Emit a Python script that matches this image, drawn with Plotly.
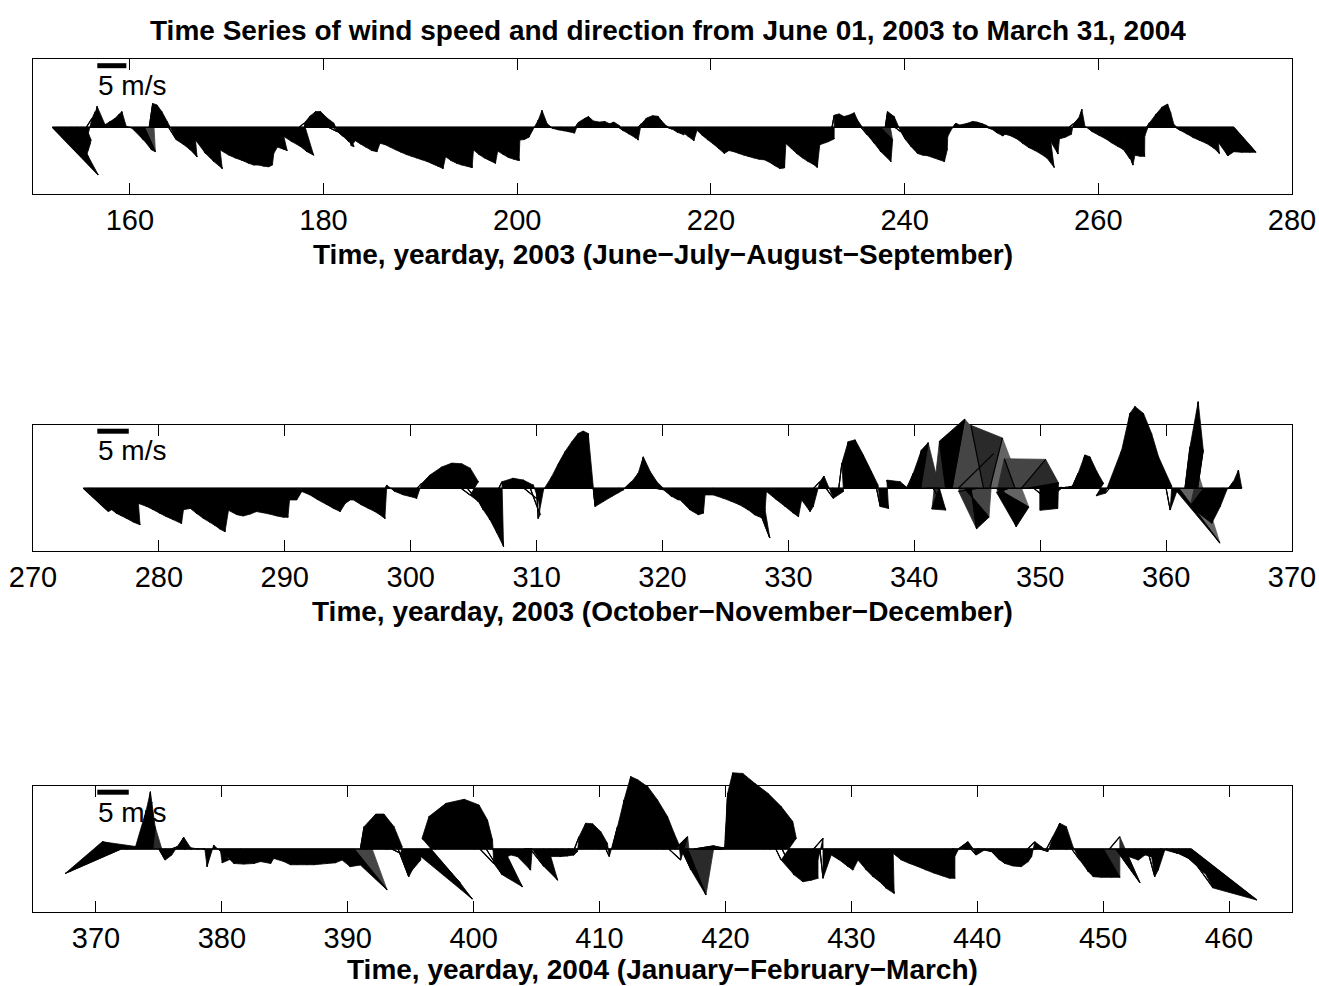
import numpy as np
import plotly.graph_objects as go

# ---------------- data (u = east, v = north, m/s), sampled every 0.5 day ----------------
p1_start = 152.0
p1_u = [7.9, 5.4, 4.3, 3.7, 3.2, 2.5, 1.2, 1.0, 0.7, 0.2, 0.75, 0.8, 0.8, 0.7, 0.3, 0.2,
        0.3, 1.55, 2.1, 1.9, 0.6, 0.5, 0.5, 0.6, 1.4, 1.8, 2.1, 2.4, 1.3, 2.2, 2.8, 3.4,
        2.2, 2.9, 3.2, 3.5, 3.8, 3.85, 3.85, 3.9, 3.9, 3.7, 3.1, 2.9, 3.2, 2.9, 1.5, 2.1,
        2.7, 3.0, 3.3, 0.8, 1.1, 1.15, 1.15, 1.5, 1.8, 1.55, 1.8, 1.9, 1.9,
        0.63, 0.46, 0.57, 0.69, 0.8, 0.85, 0.55, 0.6, 0.7, 0.8, 0.86, 0.95, 1.0, 1.05, 1.1,
        1.2, 1.26, 1.35, 1.4, 1.0, 1.15, 1.25, 1.3, 1.35, 1.4, 0.8, 0.95, 1.05, 1.15, 1.25,
        0.8, 0.95, 1.0, 1.1, 1.15, 0.45, 0.4, 0.35, 0.1, 0.3, 0.1, 0.15, 0.3, 0.5, 0.6,
        0.7, 0.7, 0.6, 0.9, 0.6, 0.6, 0.8, 0.9, 0.9, 0.8, 0.9, 0.8, 1.0, 1.3, 0.8, 0.5,
        0.6, 0.8, 0.9, 0.6, 0.6, 0.8, 1.0, 1.2,
        0.2, 0.3, 0.4, 0.1, 0.2, 0.35, 0.45, 0.55, 0.65, 0.6, 0.6, 0.65, 0.7, 0.75, 0.8,
        0.8, 0.85, 0.9, 1.0, 1.05, 1.0, 0.4, 0.55, 0.7, 0.8, 0.9, 1.0, 0.8, 0.4, 1.0, 1.2,
        0.4, 0.4, 0.4, 0.45, 0.5, 0.2, 1.1, 1.45, 1.75, 2.65, 2.1, 0.4, 0.7, 1.0, 1.05,
        1.1, 1.4, 1.45, 1.45, 1.8, 1.8, 1.85, 1.5, 0.75, 0.5, 0.5, 0.3, 0.5, 0.9, 0.8, 0.9,
        0.8, 0.8, 1.0, 1.1,
        0.6, 0.6, 1.0, 1.2, 1.4, 1.6, 1.8, 2.0, 2.4, 1.0, 1.4, 0.8, 1.0, 1.2, 0.7, 0.8, 0.5,
        0.2, 0.7, 1.0, 1.3, 1.5, 1.7, 1.8, 2.1, 1.8, 1.3, 1.4, 1.3, 0.5, 0.5, 0.8, 1.0, 1.1,
        0.8, 0.5, 0.9, 1.2, 1.4, 1.7, 2.0, 2.4, 2.5, 1.5, 2.3, 2.5, 3.0, 3.6, 3.8]
p1_v = [-8.2, -5.1, -4.5, -3.9, -2.8, -2.2, -1.0, 1.55, 2.7, 3.6, 0.4, 1.0, 1.55, 2.3, 2.7,
        0.2, -0.1, -2.2, -3.9, -4.2, 4.1, 3.85, 2.7, 1.0, -2.2, -3.0, -3.9, -5.1, -2.2, -4.5,
        -5.9, -7.1, -3.9, -4.8, -5.3, -5.7, -6.2, -6.5, -6.5, -6.7, -6.8, -6.5, -4.5, -3.4,
        -3.8, -4.0, -1.6, -2.5, -3.3, -4.2, -4.8, 0.7, 2.0, 2.7, 2.7, 1.55, 0.7, -0.75, -1.6,
        -2.5, -3.3,
        -3.2, -2.3, -2.9, -3.45, -4.0, -4.2, -2.75, -3.0, -3.45, -3.9, -4.3, -4.7, -5.0, -5.3,
        -5.6, -5.9, -6.3, -6.7, -7.1, -5.05, -5.75, -6.2, -6.5, -6.7, -6.95, -3.9, -4.7, -5.3,
        -5.75, -6.2, -4.1, -4.7, -5.2, -5.5, -5.75, -2.2, -2.1, -1.7, -0.6, 1.25, 2.9, 0.6,
        -0.2, -0.45, -0.6, -0.8, -1.0, 0.9, 1.6, 1.85, 1.1, 0.9, 1.0, 0.6, 0.9, 0.3, -0.6,
        -1.2, -1.9, -2.2, 0.6, 1.6, 2.0, 1.9, 1.2, 0.3, -0.3, -0.9, -1.3,
        -0.9, -1.6, -2.3, -0.5, -1.4, -2.2, -2.9, -3.7, -4.5, -4.0, -4.2, -4.5, -4.8, -5.05,
        -5.3, -5.5, -5.6, -6.0, -6.6, -7.1, -7.0, -2.8, -3.7, -4.6, -5.3, -5.9, -6.4, -6.9,
        -3.0, -2.5, -2.0, 2.1, 2.3, 1.85, 2.1, 2.5, 1.3, -1.3, -2.75, -4.2, -5.9, -2.2, 2.7,
        1.85, -0.75, -2.2, -3.3, -4.5, -4.8, -4.9, -5.3, -5.6, -5.9, -3.9, -1.6, -0.45, 0.7,
        0.4, 0.6, 1.0, 0.9, 0.6, 0.3, -0.3, -1.0, -1.5,
        -1.2, -1.4, -2.0, -2.8, -3.5, -4.0, -4.6, -5.3, -6.9, -2.5, -4.6, -2.0, -1.7, -1.2,
        0.6, 1.6, 3.1, 0.2, -0.8, -1.4, -2.0, -2.7, -3.3, -3.8, -5.4, -6.5, -4.8, -5.0, -5.0,
        -1.5, 0.8, 2.3, 3.5, 4.0, 2.5, 0.5, -0.6, -1.2, -1.8, -2.3, -2.8, -3.6, -4.5, -2.6,
        -4.9, -4.2, -4.3, -4.3, -4.3]

p2_start = 274.0
p2_u = [4.0, 3.5, 3.3, 3.1, 2.9, 3.0, 3.0, 1.75, 2.1, 2.1, 2.2, 2.2, 2.3, 2.6, 1.9, 2.0,
        2.0, 2.1, 2.1, 1.9, 1.75, 1.5, 1.05, 1.4, 1.4, 1.5, 1.5, 1.6, 1.6, 1.75, 1.8, 1.5,
        0.75, 0.9, 0.7, 1.0, 1.3, 1.7, 1.75, 1.8, 1.6, 1.4,
        0.9, 1.2, 1.3, 1.3, 1.1, 0.9, 0.2, 0.5, 0.85, 0.9, 0.95, 0.75, 1.05, 1.95, 2.55, 3.1,
        3.45, 3.75, 1.45, 1.75, 1.55, 1.6, 1.7, 1.75, 0.5, 1.3, 1.9, 2.5, 2.3, 1.55, 0.25,
        0.1, 0.4, 0.5, 0.5, 0.6, 0.6, 0.4, 0.2, 0.3, 0.6, 0.95, 1.0, 0.8, 1.1, 1.15, 0.95,
        1.05, 1.1, 1.4, 1.5, 1.5,
        0.8, 1.4, 1.7, 1.5, 0.75, 1.05, 1.7, 2.0, 2.3, 2.65, 2.7, 3.0, 3.05, 1.3, 0.5, 1.15,
        1.5, 1.8, 1.6, 1.1, 1.45, 0.95, 1.0, 0.65, 1.15, 1.75, 0.5, 0.5, 0.6, 0.9, 1.2, 1.25,
        0.6, 0.9, -0.35, 0.75, 0.8, 0.85, 1.15, 1.2,
        2.0, 2.0, -1.2, -1.0, 2.0, 5.6, 3.86, 0.9, -2.95, -2.0, 2.0, 5.2, 2.2, -1.9, -1.7,
        3.86, 4.9, 3.8, 0.0, 2.2, 1.4, 1.2, 1.25, 1.05, 1.1, 0.9, 1.0, 1.05, -1.1, -0.7,
        0.95, 1.25, 1.05, 1.4, 1.7, 1.8, 2.1, 1.9, 0.65, 0.7, 6.55, 0.8, 1.1, 0.9, -2.2,
        0.25, 0.6, 0.65, 0.7, 0.5, 0.0]
p2_v = [-3.7, -3.4, -4.0, -4.4, -4.8, -5.4, -5.8, -2.4, -2.9, -3.4, -4.0, -4.5, -5.0, -5.6,
        -3.4, -3.2, -4.0, -4.8, -5.4, -5.9, -6.5, -6.9, -3.5, -4.2, -4.4, -4.1, -3.7, -3.9,
        -4.1, -4.4, -4.6, -4.6, -1.85, -1.85, -0.5, -1.05, -1.85, -2.6, -3.2, -3.7, -2.4,
        -1.85,
        -1.85, -2.65, -3.2, -3.7, -4.2, -4.8, 0.5, -0.5, -1.05, -1.3, -1.6, 0.8, 2.1, 3.4,
        4.0, 3.9, 3.2, 1.05, -1.05, -2.1, -3.45, -5.0, -7.1, -9.25, 1.05, 1.6, 1.3, 0.5,
        -1.85, -4.2, -4.8, -0.25, 1.85, 4.0, 5.8, 7.4, 8.7, 9.1, 8.7, -2.9, -2.1, -1.3, -0.7,
        -0.25, 1.05, 2.4, 5.0, 2.65, 1.05, -0.25, -1.3, -1.85,
        -1.85, -3.45, -4.2, -3.95, -1.05, -1.05, -1.6, -2.1, -2.65, -3.45, -4.25, -4.8, -7.9,
        -3.45, -0.5, -1.85, -2.9, -3.95, -4.5, -1.85, -3.7, -2.9, 1.05, 1.95, -1.6, -0.5,
        4.0, 7.4, 7.7, 5.3, 2.65, 0.5, -2.9, -3.2, 1.3, 1.05, 0.15, 2.4, 6.1, 7.25,
        0.0, -3.46, -3.3, 7.5, 11.0, 5.5, -4.6, -6.44, -0.5, 10.0, 8.0, -3.0, -6.1, -0.7,
        4.7, 4.6, 0.87, -3.2, -3.5, -0.15, 0.15, 0.15, 0.35, 2.4, 5.3, 5.0, 2.65, 0.8,
        -1.2, -0.8, 6.1, 11.9, 13.0, 11.9, 8.7, 5.0, 2.1, 0.35, -3.45, -0.5, -8.7, 6.6,
        13.75, 6.1, -2.9, -5.55, -2.9, -0.25, 1.05, 2.9, 0.15]

p3_start = 372.0
p3_u = [-8.9, -4.0, 0.3, 1.0, 0.65, 0.4, 1.0, 1.05, 0.9, 0.95, 1.0, 0.5, 0.3, 0.3, -0.35,
        -0.3, -0.2, -0.95, -0.9, -2.2, -2.1, -1.55, -0.9, -0.85, -0.25, -0.75, -0.15, -0.1,
        0.0, 0.5, 0.65, 0.7, 0.75, 1.05, 1.1, 1.4,
        2.0, 5.25, 0.6, 1.45, 1.75, 2.35, 2.65, 1.4, 1.7, 1.25, 1.6, 0.6, 7.8, 4.9, -2.2,
        -2.1, -0.4, 1.5, 2.85, 3.2, 3.0, 2.2, 2.55, 4.75, 1.4, 0.9, 0.95, 2.05, 1.3, 2.2,
        3.35, 1.25, 1.85, 1.9, 1.95, 1.5, 0.75, 0.8, 0.9, 1.2, 1.25, 0.55, 0.85, 0.9, 0.95,
        1.05, 1.65, 2.2, 2.8, 2.85, 2.65, 1.9,
        2.0, 1.55, 2.9, 3.2, 4.1, 2.3, 1.3, 0.85, 0.35, 0.15, 0.75, 1.65, 2.75, 3.85, 4.7,
        4.25, 0.85, 1.95, 2.3, 2.65, 2.7, 1.7, 1.5, 0.5, 0.8, 1.1, 1.5, 1.25, 1.05, 1.4,
        1.45, 1.5, 1.55, 1.8, 0.65, 0.95, 1.25, 1.6, 1.9, 2.2, 2.55, 2.6, 2.45, 1.45, 0.95,
        1.55, 1.3, 0.85, 1.15, 1.25, 1.6,
        1.4, 1.7, 2.0, 2.1, 1.65, 1.15, 1.2, 1.25, 1.05, 1.1, 1.15, 1.25, 1.3, 1.65, 1.45,
        1.75, 2.35, 2.65, 1.65, 3.85, 1.0, 1.6, 1.65, 1.7, 1.2, 0.75, 0.8, 1.9, 3.1, 4.2,
        4.5, 10.4]
p3_v = [-3.9, 1.15, 0.4, 6.2, 9.1, 3.55, -1.75, -0.95, 0.35, 1.85, 0.25, 0.1, 0.05, 0.0,
        -2.8, 0.6, -0.4, -2.2, -1.75, -1.2, -2.3, -2.4, -2.3, -2.0, -2.3, -1.5, -2.0, -2.5,
        -2.5, -2.5, -2.5, -2.4, -2.3, -2.2, -1.75, -2.8,
        -2.55, -6.5, 3.55, 5.55, 5.55, 3.55, 0.35, -0.7, -4.4, -3.35, -1.75, -1.2, -7.95,
        -5.45, 1.7, 5.15, 7.25, 7.9, 7.0, 4.6, 1.45, -2.3, -4.1, -6.0, -1.2, -0.95, -1.2,
        -3.35, 0.0, -2.8, -4.95, -1.2, -1.2, -1.1, -0.95, -0.4, 1.95, 4.1, 4.0, 2.75, 0.9,
        -1.2, 3.55, 7.8, 11.5, 11.0, 9.9, 7.8, 5.15, 2.5, 0.65, -1.75,
        1.95, -3.35, -7.3, 0.5, 0.1, -0.05, 0.0, 0.25, 8.85, 12.1, 12.0, 10.45, 8.85, 6.75,
        4.35, 1.7, -1.75, -4.15, -5.2, -4.95, -4.65, -1.75, 1.7, -4.65, -0.95, -1.75, -2.8,
        -3.35, -1.75, -3.35, -4.4, -5.2, -6.25, -7.05, -0.7, -1.75, -2.3, -2.8, -3.35, -3.85,
        -4.3, -4.65, -4.65, -1.2, -0.15, 1.15, 0.1, -0.95, -0.15, -0.4, -1.75,
        -2.3, -2.7, -2.8, -2.0, -1.2, 1.15, 0.35, -0.4, 1.95, 4.1, 3.55, 0.25, -1.75, -3.6,
        -4.4, -4.5, -4.5, -4.5, 1.95, -5.35, -1.2, -1.75, -0.95, -1.2, -4.4, -3.35, -0.15,
        -0.7, -1.75, -3.85, -6.2, -8.1]

sample_step = 0.5      # days between samples
scale_speed = 5        # m/s length of the scale bar

p1_ticks = [160, 180, 200, 220, 240, 260, 280]
p2_ticks = [270, 280, 290, 300, 310, 320, 330, 340, 350, 360, 370]
p3_ticks = [370, 380, 390, 400, 410, 420, 430, 440, 450, 460]

title = "Time Series of wind speed and direction from June 01, 2003 to March 31, 2004"
labels = ["Time, yearday, 2003 (June\u2212July\u2212August\u2212September)",
          "Time, yearday, 2003 (October\u2212November\u2212December)",
          "Time, yearday, 2004 (January\u2212February\u2212March)"]

# ---------------- layout geometry (pixels) / style ----------------
W, H = 1319, 986
X0, X1 = 33, 1292
FONT = "Liberation Sans, Arial, Helvetica, sans-serif"
# tone of the swept area between two samples: dense when the sticks stay parallel,
# lighter when the direction swings and the sticks fan out
COVER_K = 20.0
TONE_EDGES = [0.75, 0.5, 0.3]
TONE_COLORS = ["#000000", "#2a2a2a", "#454545", "#636363"]

panels = [
    dict(start=p1_start, u=p1_u, v=p1_v, xr=(150, 280), ticks=p1_ticks, top=59.0, bottom=194.3,
         base=127.3, kx=0.6, label_y=255, bar_y=65.7, text_y=85.0),
    dict(start=p2_start, u=p2_u, v=p2_v, xr=(270, 370), ticks=p2_ticks, top=424.7, bottom=550.7,
         base=488.3, kx=0.5, label_y=611, bar_y=431.2, text_y=450.8),
    dict(start=p3_start, u=p3_u, v=p3_v, xr=(365, 465), ticks=p3_ticks, top=786.0, bottom=912.3,
         base=849.0, kx=0.5, label_y=969, bar_y=792.2, text_y=812.7),
]
BAR_X = 97.3

fig = go.Figure()
layout = dict(width=W, height=H, margin=dict(l=0, r=0, t=0, b=0, autoexpand=False),
              paper_bgcolor="white", plot_bgcolor="rgba(0,0,0,0)", showlegend=False,
              font=dict(family=FONT, color="black"))
annotations = []

xd = [X0 / W, X1 / W]
for k, p in enumerate(panels):
    i_vis = k + 1
    i_stk = k + 4
    sv = "" if i_vis == 1 else str(i_vis)
    ss = str(i_stk)
    px_per_day = (X1 - X0) / (p["xr"][1] - p["xr"][0])
    s = p["kx"] * px_per_day               # pixels per m/s
    # visible framed axes
    layout["xaxis" + sv] = dict(domain=xd, range=list(p["xr"]), anchor="y" + sv,
                                tickvals=p["ticks"], ticktext=[str(t) for t in p["ticks"]],
                                ticks="inside", ticklen=11, tickwidth=1.2, tickcolor="black",
                                showline=True, linecolor="black", linewidth=1.4, mirror="ticks",
                                showgrid=False, zeroline=False, automargin=False,
                                tickfont=dict(family=FONT, size=29, color="black"))
    layout["yaxis" + sv] = dict(domain=[1 - p["bottom"] / H, 1 - p["top"] / H], range=[0, 1],
                                anchor="x" + sv, showticklabels=False, ticks="",
                                showline=True, linecolor="black", linewidth=1.4, mirror=True,
                                showgrid=False, zeroline=False, automargin=False)
    # invisible axes for the sticks (taller, so sticks are not clipped by the frame)
    layout["xaxis" + ss] = dict(domain=xd, range=list(p["xr"]), anchor="y" + ss, visible=False,
                                automargin=False)
    layout["yaxis" + ss] = dict(domain=[0, 1], range=[-(H - p["base"]) / s, p["base"] / s],
                                anchor="x" + ss, visible=False, automargin=False)
    fig.add_trace(go.Scatter(x=[0], y=[0], xaxis="x" + sv, yaxis="y" + sv, mode="markers",
                             marker=dict(opacity=0), hoverinfo="skip"))

    u = np.array(p["u"], dtype=float)
    v = np.array(p["v"], dtype=float)
    t = p["start"] + sample_step * np.arange(len(u))
    tx = t + p["kx"] * u

    # swept area between successive sticks, grouped by tone
    groups = [([], []) for _ in TONE_COLORS]
    for i in range(len(t) - 1):
        ddx = (tx[i + 1] - tx[i]) * px_per_day
        ddy = (v[i + 1] - v[i]) * s
        mx, my = (u[i] + u[i + 1]) / 2, (v[i] + v[i + 1]) / 2
        mn = np.hypot(mx, my)
        if mn < 1e-6:
            dperp = np.hypot(ddx, ddy)
        else:
            dperp = abs(ddx * my / mn - ddy * mx / mn)
        cover = min(1.0, COVER_K / max(dperp, 1e-6))
        g = sum(1 for e in TONE_EDGES if cover < e)
        fx, fy = groups[g]
        fx += [t[i], tx[i], tx[i + 1], t[i + 1], t[i], None]
        fy += [0, v[i], v[i + 1], 0, 0, None]
    for g in range(len(TONE_COLORS) - 1, -1, -1):
        fx, fy = groups[g]
        if not fx:
            continue
        fig.add_trace(go.Scatter(x=fx, y=fy, xaxis="x" + ss, yaxis="y" + ss, mode="lines",
                                 fill="toself", fillcolor=TONE_COLORS[g],
                                 line=dict(color=TONE_COLORS[g], width=0.8), hoverinfo="skip"))
    # the sticks themselves
    sx, sy = [], []
    for i in range(len(t)):
        sx += [t[i], tx[i], None]
        sy += [0, v[i], None]
    fig.add_trace(go.Scatter(x=sx, y=sy, xaxis="x" + ss, yaxis="y" + ss, mode="lines",
                             line=dict(color="black", width=1.2), hoverinfo="skip"))
    # baseline
    fig.add_trace(go.Scatter(x=[t[0], t[-1]], y=[0, 0], xaxis="x" + ss, yaxis="y" + ss,
                             mode="lines", line=dict(color="black", width=1.5), hoverinfo="skip"))
    # scale bar (5 m/s)
    bx0 = p["xr"][0] + (BAR_X - X0) / px_per_day
    by = (p["base"] - p["bar_y"]) / s
    fig.add_trace(go.Scatter(x=[bx0, bx0 + p["kx"] * scale_speed], y=[by, by],
                             xaxis="x" + ss, yaxis="y" + ss, mode="lines",
                             line=dict(color="black", width=5), hoverinfo="skip"))
    annotations.append(dict(text=f"{scale_speed} m/s", xref="paper", yref="paper",
                            x=BAR_X / W - 0.001, y=1 - p["text_y"] / H, xanchor="left",
                            yanchor="middle", showarrow=False,
                            font=dict(family=FONT, size=28, color="black")))
    annotations.append(dict(text="<b>" + labels[k] + "</b>", xref="paper", yref="paper",
                            x=(X0 + X1) / 2 / W, y=1 - p["label_y"] / H, xanchor="center",
                            yanchor="middle", showarrow=False,
                            font=dict(family=FONT, size=28, color="black")))

annotations.append(dict(text="<b>" + title + "</b>", xref="paper", yref="paper",
                        x=667.5 / W, y=1 - 30 / H, xanchor="center", yanchor="middle",
                        showarrow=False, font=dict(family=FONT, size=28, color="black")))
layout["annotations"] = annotations
fig.update_layout(**layout)
fig.write_html("out.html")
